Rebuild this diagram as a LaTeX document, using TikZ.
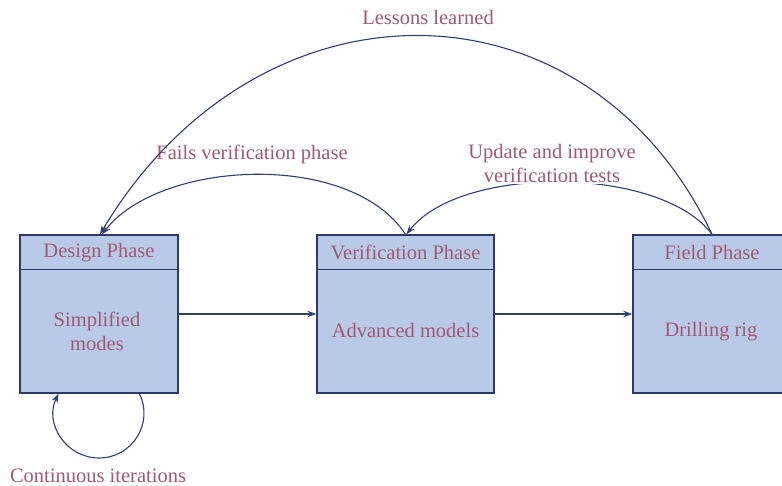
\documentclass[tikz,border=0pt]{standalone}
\usepackage{fontspec}
\setmainfont{Liberation Serif}
\usetikzlibrary{arrows.meta,calc}
\definecolor{txtc}{HTML}{A05A70}
\definecolor{boxfill}{HTML}{B9CAE8}
\definecolor{edge}{HTML}{2C3A6C}
\definecolor{linec}{HTML}{2E3F72}
\begin{document}
\begin{tikzpicture}[x=1pt,y=-1pt,
  phase/.style={draw=edge,fill=boxfill,line width=1.4pt,minimum width=158pt,minimum height=158pt,inner sep=0pt},
  lbl/.style={text=txtc,font=\fontsize{20.5}{24}\selectfont,inner sep=1pt,align=center},
  arr/.style={draw=linec,line width=1.1pt,-{Stealth[length=9pt,width=6.5pt]}}]
\useasboundingbox (0,0) rectangle (782,486);
\fill[white] (0,0) rectangle (782,486);
% boxes
\node[phase] (design) at (99,314) {};
\node[phase,minimum width=177pt] (verif) at (405.5,314) {};
\node[phase] (field) at (712,314) {};
\draw[edge,line width=1.4pt] ($(design.north west)+(0,35)$) -- ($(design.north east)+(0,35)$);
\draw[edge,line width=1.4pt] ($(verif.north west)+(0,35)$) -- ($(verif.north east)+(0,35)$);
\draw[edge,line width=1.4pt] ($(field.north west)+(0,35)$) -- ($(field.north east)+(0,35)$);
% box texts
\node[lbl] (designH) at ($(design.north)+(0,18)$) {Design Phase};
\node[lbl] (designB) at ($(design.north)+(-2,97)$) {Simplified\\modes};
\node[lbl] (verifH) at ($(verif.north)+(0,18)$) {Verification Phase};
\node[lbl] (verifB) at ($(verif.north)+(0,96)$) {Advanced models};
\node[lbl] (fieldH) at ($(field.north)+(0,18)$) {Field Phase};
\node[lbl] (fieldB) at ($(field.north)+(-1,97)$) {Drilling rig};
% straight arrows
\draw[arr] (design.east) -- (verif.west);
\draw[arr] (verif.east) -- (field.west);
% fails verification
\draw[arr] (verif.north) .. controls (350,150) and (160,160) .. ($(design.north)+(3,0)$);
\node[lbl] (failsL) at (252,154) {Fails verification phase};
% update
\draw[arr] (field.north) .. controls (660,165) and (460,165) .. ($(verif.north)+(1,0)$);
\node[lbl,fill=white,inner sep=2pt] (updL) at (552,163) {Update and improve\\verification tests};
% lessons learned
\draw[arr] (field.north) .. controls (586,-30) and (258,-30) .. ($(design.north)+(1,0)$);
\node[lbl] (lessL) at (428,17) {Lessons learned};
% continuous iterations loop
\draw[arr] ($(design.south)+(40.4,0)$) .. controls (154,423) and (132.3,458) .. (99,458)
  .. controls (65.7,458) and (44,423) .. ($(design.south)+(-40.4,0)$);
\node[lbl] (contL) at (98,476) {Continuous iterations};
\end{tikzpicture}
\end{document}
